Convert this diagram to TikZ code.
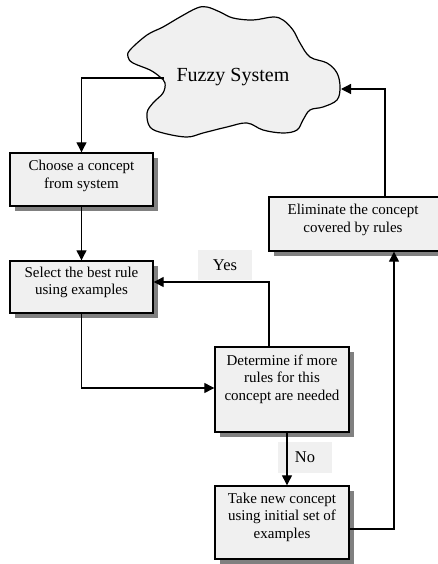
\documentclass[tikz,border=0pt]{standalone}
\usepackage{fontspec}
\setmainfont{Liberation Serif}
\usetikzlibrary{arrows.meta,shadows,calc}
\definecolor{boxfill}{HTML}{F0F0F0}
\definecolor{shadowgray}{HTML}{808080}
\tikzset{
  flowbox/.style={draw=black, line width=1.4pt, fill=boxfill, inner sep=0pt,
    drop shadow={shadow xshift=5pt, shadow yshift=-5pt, fill=shadowgray, opacity=1}},
  boxtext/.style={align=center, inner sep=0pt, font=\fontsize{15}{17.5}\selectfont},
  tag/.style={fill=boxfill, inner sep=0pt, minimum width=54pt, minimum height=30pt,
    font=\fontsize{16.5}{18}\selectfont},
  link/.style={line width=1.2pt, draw=black},
  arr/.style={link, -{Triangle[length=10pt,width=10pt]}},
}
\begin{document}
\begin{tikzpicture}[x=1pt, y=-1pt]
  \useasboundingbox (0,0) rectangle (438,564);

  % the fuzzy system blob
  \draw[line width=1.2pt, fill=boxfill] plot[smooth cycle, tension=0.6] coordinates {
    (130,50) (147,35) (163,27) (180,17) (197,8) (207,7) (220,12) (233,18)
    (253,20) (273,17) (283,20) (293,30) (300,43) (310,57) (327,63) (337,73)
    (340,87) (337,100) (323,107) (310,110) (303,120) (297,130) (283,133)
    (263,130) (247,123) (227,127) (203,133) (187,137) (163,133) (150,127)
    (147,113) (153,103) (163,93) (165,83) (160,77) (150,70) (133,63) (128,57)};
  \node[font=\fontsize{20}{22}\selectfont, inner sep=0pt] (cloud) at (233,77) {Fuzzy System};
  \coordinate (cloudL) at (164,78);
  \coordinate (cloudR) at (341,89);

  % process boxes
  \node[flowbox, minimum width=143pt, minimum height=53pt] (choose) at (81.5,179.5) {};
  \node[boxtext] (tchoose) at (81.5,176) {Choose a concept\\from system};

  \node[flowbox, minimum width=143pt, minimum height=52pt] (select) at (81.5,287) {};
  \node[boxtext] (tselect) at (81.5,282.5) {Select the best rule\\using examples};

  \node[flowbox, minimum width=134pt, minimum height=85pt] (det) at (282,389.5) {};
  \node[boxtext] (tdet) at (282,379) {Determine if more\\rules for this\\concept are needed};

  \node[flowbox, minimum width=134pt, minimum height=73pt] (take) at (282,522.5) {};
  \node[boxtext] (ttake) at (282,517) {Take new concept\\using initial set of\\examples};

  \node[flowbox, minimum width=173pt, minimum height=54pt] (elim) at (355.5,224) {};
  \node[boxtext] (telim) at (353,220) {Eliminate the concept\\covered by rules};

  % branch labels
  \node[tag] (yes) at (225,265) {Yes};
  \node[tag, minimum height=31pt] (no) at (305,457.5) {No};

  % connectors
  \draw[arr] (cloudL) -| (choose.north);
  \draw[arr] (choose.south) -- (select.north);
  \draw[arr] (select.south) |- ($(det.west)+(0,-1.5)$);
  \draw[arr] ($(det.north)+(-13,0)$) |- ($(select.east)+(0,-5)$);
  \draw[arr] ($(det.south)+(5,0)$) -- ($(take.north)+(5,0)$);
  \draw[arr] ($(take.east)+(0,6.5)$) -| ($(elim.south)+(38.5,0)$);
  \draw[arr] ($(elim.north)+(29.5,0)$) |- (cloudR);
\end{tikzpicture}
\end{document}
